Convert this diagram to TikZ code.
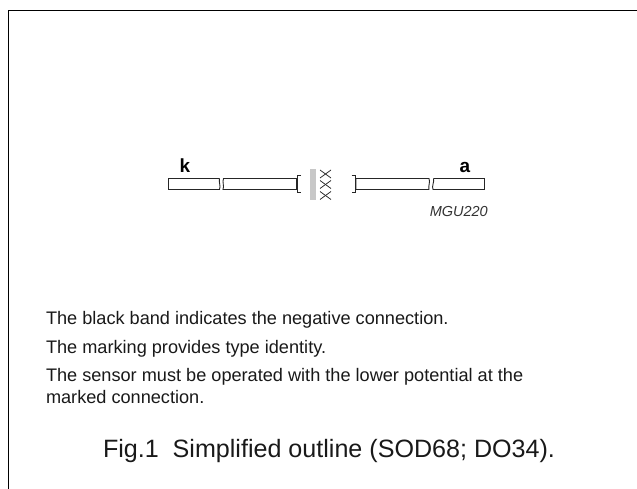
\documentclass[tikz,border=0pt]{standalone}
\usepackage{fontspec}
\setmainfont{Liberation Sans}
\tikzset{
  px/.style={x=1pt,y=-1pt},
  frameline/.style={draw=black,line width=1pt},
  lead/.style={draw=black!85,line width=0.9pt,fill=white},
  thinmark/.style={draw=black!85,line width=0.75pt},
  body/.style={anchor=base west,inner sep=0pt,outer sep=0pt,font=\fontsize{18.15}{20}\selectfont,text=black!90},
  caption/.style={anchor=base west,inner sep=0pt,outer sep=0pt,font=\fontsize{25.1}{28}\selectfont,text=black!90},
  pin/.style={anchor=base,inner sep=0pt,outer sep=0pt,font=\fontsize{19}{20}\selectfont\bfseries}
}
\begin{document}
\begin{tikzpicture}[px]
\useasboundingbox (0,0) rectangle (637,489);
\draw[frameline] (8.5,489) -- (8.5,10.5) -- (637,10.5);
% left lead
\draw[lead] (219.5,178.5) -- (168.5,178.5) -- (168.5,189.5) -- (219.5,189.5)
  .. controls (221,186) and (218.5,182) .. (219.5,178.5);
\draw[lead] (296.5,178.5) -- (223.5,178.5) .. controls (222,182) and (224.5,186) .. (223,189.5) -- (296.5,189.5) -- cycle;
\draw[thinmark] (301,175.5) -- (297,175.5) -- (297,192.5) -- (301,192.5);
% band
\fill[black!22] (310,169) rectangle (316,200);
% crosses
\foreach \yy in {170,180.5,191.5}{
  \draw[thinmark] (320,\yy) -- (331,\yy+8);
  \draw[thinmark] (331,\yy) -- (320,\yy+8);
}
% right lead
\draw[thinmark] (351.5,175.5) -- (355.5,175.5) -- (355.5,192.5) -- (351.5,192.5);
\draw[lead] (356,178.5) -- (429,178.5) .. controls (430.5,182) and (428,186) .. (429,189.5) -- (356,189.5) -- cycle;
\draw[lead] (433.5,178.5) -- (484.5,178.5) -- (484.5,189.5) -- (433,189.5)
  .. controls (431.5,186) and (434.5,182) .. (433.5,178.5);
% labels
\node[pin] (k) at (185,172.8) {k};
\node[pin] (a) at (465,172.8) {a};
\node[anchor=base east,inner sep=0pt,font=\fontsize{14.5}{16}\selectfont\itshape,text=black!80] (code) at (488,216.5) {MGU220};
\node[body] (l1) at (46,324.5) {The black band indicates the negative connection.};
\node[body] (l2) at (46,353) {The marking provides type identity.};
\node[body] (l3) at (46,381) {The sensor must be operated with the lower potential at the};
\node[body] (l4) at (46,403) {marked connection.};
\node[caption] (cap) at (103,457.5) {Fig.1\ \ Simplified outline (SOD68; DO34).};
\end{tikzpicture}
\end{document}
